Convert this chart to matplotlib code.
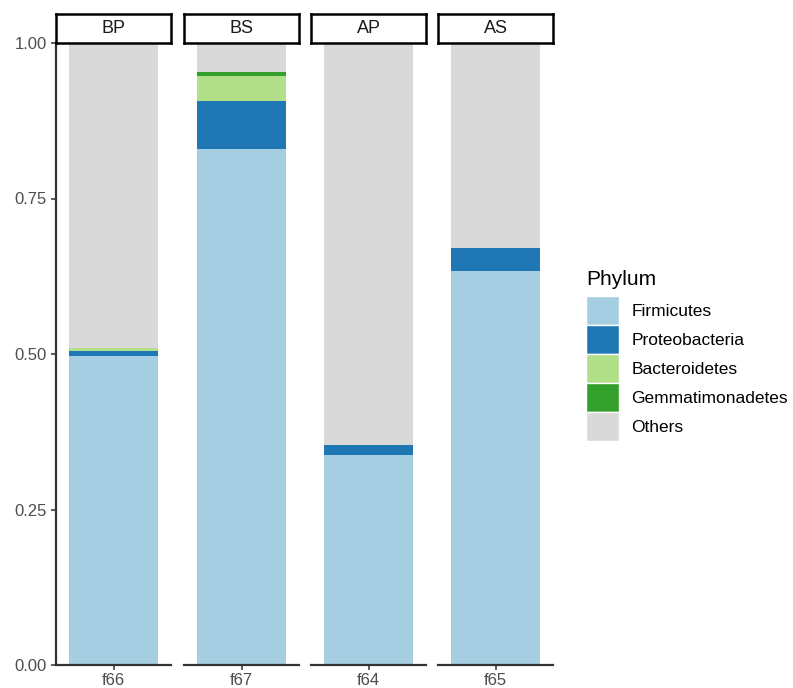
import matplotlib
matplotlib.use("Agg")
import matplotlib.pyplot as plt
from matplotlib.patches import Patch

plt.rcParams['font.family'] = ['Liberation Sans', 'DejaVu Sans']

groups = ["BP", "BS", "AP", "AS"]
samples = ["f66", "f67", "f64", "f65"]
phyla = ["Firmicutes", "Proteobacteria", "Bacteroidetes", "Gemmatimonadetes", "Others"]
colors = ["#A6CEE3", "#1F78B4", "#B2DF8A", "#33A02C", "#D9D9D9"]

firmicutes = [0.496, 0.829, 0.338, 0.634]
proteobacteria = [0.009, 0.078, 0.016, 0.037]
bacteroidetes = [0.004, 0.040, 0.000, 0.000]
gemmatimonadetes = [0.000, 0.006, 0.000, 0.000]
others = [1 - f - p - b - g for f, p, b, g in
          zip(firmicutes, proteobacteria, bacteroidetes, gemmatimonadetes)]
series = [firmicutes, proteobacteria, bacteroidetes, gemmatimonadetes, others]

W, H = 793, 688
fig = plt.figure(figsize=(W / 100, H / 100), dpi=100)

panel_left = [56, 184, 311, 438]
panel_w = 115
top_px, bot_px = 43, 665
strip_h = 29
axis_col = "#333333"
tick_col = "#4D4D4D"

for i in range(4):
    l = panel_left[i] / W
    b = (H - bot_px) / H
    w = panel_w / W
    h = (bot_px - top_px) / H
    ax = fig.add_axes([l, b, w, h])
    bottom = 0.0
    for s, c in zip(series, colors):
        ax.bar([0], [s[i]], bottom=bottom, width=0.92, color=c, linewidth=0)
        bottom += s[i]
    ax.set_xlim(-0.6, 0.6)
    ax.set_ylim(0, 1)
    ax.set_xticks([0])
    ax.set_xticklabels([samples[i]], fontsize=12, color=tick_col)
    for sp in ["top", "right"]:
        ax.spines[sp].set_visible(False)
    ax.spines["bottom"].set_linewidth(1.6)
    ax.spines["bottom"].set_color(axis_col)
    ax.tick_params(axis="x", length=3.5, width=1.1, color=axis_col, pad=2)
    if i == 0:
        ax.spines["left"].set_linewidth(1.6)
        ax.spines["left"].set_color(axis_col)
        ax.set_yticks([0, 0.25, 0.5, 0.75, 1.0])
        ax.set_yticklabels(["0.00", "0.25", "0.50", "0.75", "1.00"], fontsize=12, color=tick_col)
        ax.tick_params(axis="y", length=3.5, width=1.1, color=axis_col, pad=3)
    else:
        ax.spines["left"].set_visible(False)
        ax.set_yticks([])
    # facet strip
    sax = fig.add_axes([l, (H - top_px) / H, w, strip_h / H])
    sax.set_xticks([]); sax.set_yticks([])
    for sp in sax.spines.values():
        sp.set_linewidth(1.8)
        sp.set_color("black")
    sax.text(0.5, 0.5, groups[i], ha="center", va="center", fontsize=13,
             color="#1A1A1A", transform=sax.transAxes)

handles = [Patch(facecolor=c, edgecolor="white", linewidth=1) for c in colors]
leg = fig.legend(handles, phyla, title="Phylum", loc="upper left",
                 bbox_to_anchor=(586 / W, 1 - 270 / H), frameon=False,
                 fontsize=12.5, title_fontsize=15, handlelength=1.9,
                 handleheight=2.19, handletextpad=0.7, labelspacing=0.0,
                 borderaxespad=0, borderpad=0)
leg._legend_box.align = "left"
leg._legend_box.sep = 5

fig.savefig("out.png", dpi=100)
